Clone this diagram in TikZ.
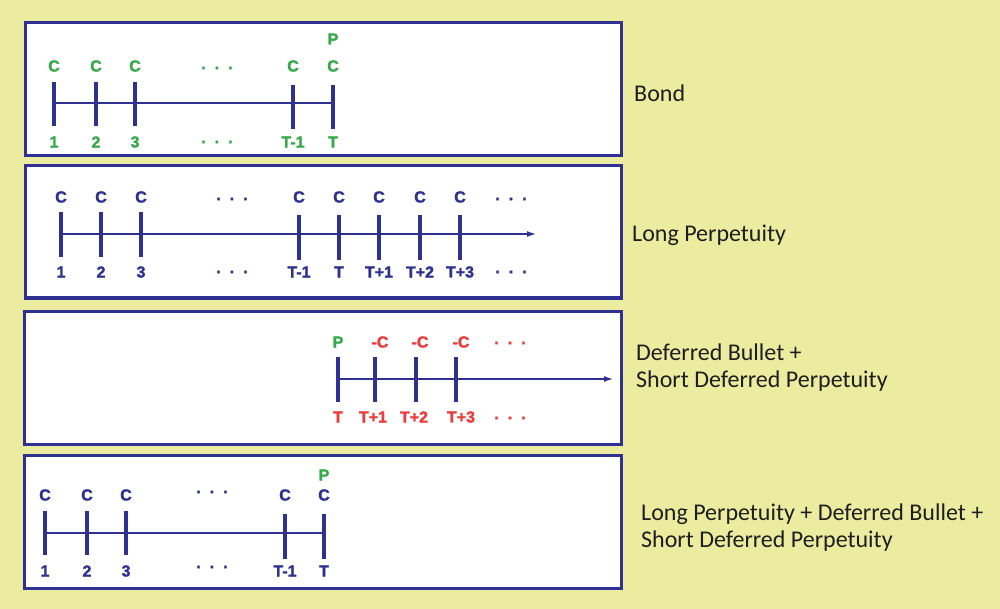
\documentclass[tikz,border=0pt]{standalone}
\usepackage{fontspec}
\setmainfont{Carlito}
\newfontfamily\cffont[BoldFeatures={FakeBold=1.6}]{Liberation Sans}
\usetikzlibrary{arrows.meta}
\definecolor{bgyellow}{HTML}{EBEC9F}
\definecolor{boxblue}{HTML}{2E3192}
\definecolor{cfgreen}{HTML}{36A94A}
\definecolor{cfred}{HTML}{EE3B3B}
\definecolor{captext}{HTML}{1E1E1E}
\tikzset{
  panel/.style={draw=boxblue,line width=3pt,fill=white},
  tickmark/.style={draw=boxblue,line width=4pt},
  axis/.style={draw=boxblue,line width=2.2pt},
  arrowaxis/.style={draw=boxblue,line width=1.3pt,-{Latex[length=9pt,width=6pt]}},
  cflabel/.style={font=\cffont\bfseries\fontsize{16}{16}\selectfont,inner sep=0pt},
  caption/.style={font=\fontsize{24}{27}\selectfont,text=captext,align=left,anchor=west,inner sep=0pt},
}
\newcommand{\cfdots}{.\hspace{9pt}.\hspace{9pt}.}

\begin{document}
\begin{tikzpicture}[x=1pt,y=-1pt]
  \fill[bgyellow] (0,0) rectangle (1000,609);
  \useasboundingbox (0,0) rectangle (1000,609);

  \draw[panel] (25,23) rectangle (621,156);
  \foreach \x/\lab/\ya/\yb [count=\i] in {54/1/82/126,96/2/82/126,135/3/82/126,293/T-1/85/129,333/T/85/129} {
    \coordinate (bond\i) at (\x,103);
    \draw[tickmark] (\x,\ya) -- (\x,\yb);
    \node[cflabel,text=cfgreen] (bondc\i) at (\x,66) {C};
    \node[cflabel,text=cfgreen] (bondt\i) at (\x,142) {\lab};
  }
  \draw[axis] (bond1) -- (bond5);
  \node[cflabel,text=cfgreen] (bondp) at (333,39) {P};
  \node[cflabel,text=cfgreen] (bonddots1) at (217,68) {\cfdots};
  \node[cflabel,text=cfgreen] (bonddots2) at (217,142) {\cfdots};
  \node[caption] (bond) at (634,93) {Bond};

  \draw[panel] (25,166) rectangle (621,298);
  \foreach \x/\lab/\ya/\yb [count=\i] in {61/1/212/257,101/2/212/257,141/3/212/257,299/T-1/215/260,339/T/215/260,379/T+1/215/260,420/T+2/215/260,460/T+3/215/260} {
    \coordinate (long\i) at (\x,234);
    \draw[tickmark] (\x,\ya) -- (\x,\yb);
    \node[cflabel,text=boxblue] (longc\i) at (\x,197) {C};
    \node[cflabel,text=boxblue] (longt\i) at (\x,272) {\lab};
  }
  \coordinate (longend) at (536,234);
  \draw[arrowaxis] (long1) -- (longend);
  \node[cflabel,text=boxblue] (longdots1) at (232,199) {\cfdots};
  \node[cflabel,text=boxblue] (longdots2) at (232,272) {\cfdots};
  \node[cflabel,text=boxblue] (longdots3) at (511,199) {\cfdots};
  \node[cflabel,text=boxblue] (longdots4) at (511,272) {\cfdots};
  \node[caption] (longperp) at (632,235) {Long Perpetuity};

  \draw[panel] (24,311) rectangle (621,444);
  \foreach \x/\lab/\lx [count=\i] in {338/T/338,375/T+1/373,416/T+2/414,456/T+3/461} {
    \coordinate (short\i) at (\x,379);
    \draw[tickmark] (\x,357) -- (\x,402);
    \node[cflabel,text=cfred] (shortt\i) at (\lx,417) {\lab};
  }
  \coordinate (shortend) at (613,379);
  \draw[arrowaxis] (short1) -- (shortend);
  \node[cflabel,text=cfgreen] (shortp) at (338,342) {P};
  \foreach \x [count=\i] in {380,420,461}
    \node[cflabel,text=cfred] (shortc\i) at (\x,342) {-C};
  \node[cflabel,text=cfred] (shortdots1) at (510,343) {\cfdots};
  \node[cflabel,text=cfred] (shortdots2) at (510,418) {\cfdots};
  \node[caption] (deferred) at (636,368) {Deferred Bullet +\\Short Deferred Perpetuity};

  \draw[panel] (24,455) rectangle (621,588);
  \foreach \x/\lab/\ya/\yb [count=\i] in {45/1/511/555,87/2/511/555,126/3/511/555,285/T-1/514/559,324/T/514/559} {
    \coordinate (sum\i) at (\x,533);
    \draw[tickmark] (\x,\ya) -- (\x,\yb);
    \node[cflabel,text=boxblue] (sumc\i) at (\x,495) {C};
    \node[cflabel,text=boxblue] (sumt\i) at (\x,571) {\lab};
  }
  \draw[axis] (sum1) -- (sum5);
  \node[cflabel,text=cfgreen] (sump) at (324,475) {P};
  \node[cflabel,text=boxblue] (sumdots1) at (212,492) {\cfdots};
  \node[cflabel,text=boxblue] (sumdots2) at (212,567) {\cfdots};
  \node[caption] (combined) at (641,528) {Long Perpetuity + Deferred Bullet +\\Short Deferred Perpetuity};
\end{tikzpicture}
\end{document}
